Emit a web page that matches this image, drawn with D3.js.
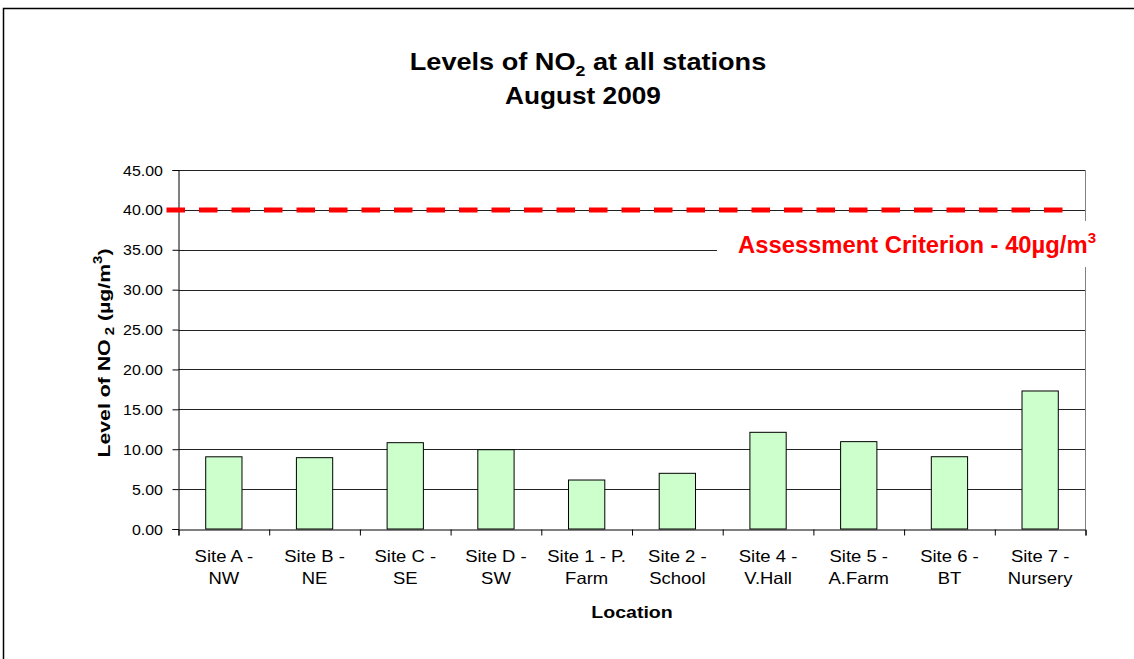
<!DOCTYPE html>
<html><head><meta charset="utf-8">
<script src="https://cdn.jsdelivr.net/npm/d3@7"></script>
<style>body{margin:0;background:#fff}svg{display:block;font-family:Arial,"Liberation Sans",sans-serif}</style>
</head><body><svg id="c" width="1134" height="659"></svg>
<script>
const categories = [["Site A -","NW"],["Site B -","NE"],["Site C -","SE"],["Site D -","SW"],["Site 1 - P.","Farm"],["Site 2 -","School"],["Site 4 -","V.Hall"],["Site 5 -","A.Farm"],["Site 6 -","BT"],["Site 7 -","Nursery"]];
const values = [9.05, 8.94, 10.82, 9.94, 6.14, 6.98, 12.12, 10.95, 9.06, 17.3];
const yTicks = [0,5,10,15,20,25,30,35,40,45];
const criterion = 40;

const svg = d3.select("#c");
const L = 178.5, R = 1085.5, T = 170, B = 529;

svg.append("rect").attr("x",3.5).attr("y",8.5).attr("width",1200).attr("height",700)
  .attr("fill","#fff").attr("stroke","#000").attr("stroke-width",1.5);

const x = d3.scaleBand().domain(d3.range(categories.length)).range([L,R]);
const y = d3.scaleLinear().domain([0,45]).range([B,T]);

// helper: text stretched along its baseline
function stext(parent, tx, ty, sx, rot) {
  return parent.append("g").attr("transform",`translate(${tx},${ty})${rot?` rotate(${rot})`:""} scale(${sx},1)`).append("text");
}

// gridlines
svg.append("g").selectAll("line").data(yTicks.filter(d=>d>0)).join("line")
  .attr("x1",L).attr("x2",R).attr("y1",d=>Math.round(y(d))+0.5).attr("y2",d=>Math.round(y(d))+0.5)
  .attr("stroke","#222").attr("stroke-width",1);
svg.append("line").attr("x1",R).attr("x2",R).attr("y1",T).attr("y2",B).attr("stroke","#808080");

// bars
const bw = x.bandwidth()*0.4;
svg.append("g").selectAll("rect").data(values).join("rect")
  .attr("x",(d,i)=>x(i)+x.bandwidth()/2-bw/2)
  .attr("y",d=>y(d)).attr("width",bw).attr("height",d=>y(0)-y(d))
  .attr("fill","#ccffcc").attr("stroke","#000").attr("stroke-width",1);

// y axis
const ya = svg.append("g").attr("transform",`translate(${L},0)`)
  .call(d3.axisLeft(y).tickValues(yTicks).tickFormat("").tickSize(6));
ya.select(".domain").attr("stroke","#000");
ya.selectAll(".tick line").attr("stroke","#000");
yTicks.forEach(v=>{
  stext(svg, 163, y(v)+5.5, 1.14).attr("text-anchor","end").attr("font-size",14).text(d3.format(".2f")(v));
});

// x axis
const xb = d3.scaleLinear().domain([0,categories.length]).range([L,R]);
const xa = svg.append("g").attr("transform",`translate(0,${B+0.5})`)
  .call(d3.axisBottom(xb).tickValues(d3.range(categories.length+1)).tickSize(6).tickFormat(""));
xa.select(".domain").attr("stroke","#000");
xa.selectAll(".tick line").attr("stroke","#000");
categories.forEach((c,i)=>{
  const cx = x(i)+x.bandwidth()/2;
  stext(svg, cx, 562, 1.12).attr("text-anchor","middle").attr("font-size",16.5).text(c[0]);
  stext(svg, cx, 584, 1.12).attr("text-anchor","middle").attr("font-size",16.5).text(c[1]);
});

// annotation box
svg.append("rect").attr("x",717).attr("y",221).attr("width",400).attr("height",46).attr("fill","#fff");
const at = svg.append("text").attr("x",738).attr("y",252.5).attr("font-size",23.8).attr("font-weight","bold").attr("fill","#ff0000");
at.append("tspan").text("Assessment Criterion - 40µg/m");
at.append("tspan").attr("dy",-10).attr("font-size",15).text("3");

// criterion dashed line
svg.append("line").attr("x1",L-12).attr("x2",R-18).attr("y1",y(criterion)).attr("y2",y(criterion))
  .attr("stroke","#ff0000").attr("stroke-width",5).attr("stroke-dasharray","18.5,14");

// title
const t1 = stext(svg, 588, 70, 1.18).attr("text-anchor","middle").attr("font-size",23).attr("font-weight","bold");
t1.append("tspan").text("Levels of NO");
t1.append("tspan").attr("dy",6).attr("font-size",15).text("2");
t1.append("tspan").attr("dy",-6).text(" at all stations");
stext(svg, 583, 104, 1.14).attr("text-anchor","middle").attr("font-size",23).attr("font-weight","bold").text("August 2009");

// axis titles
stext(svg, (L+R)/2, 618, 1.15).attr("text-anchor","middle").attr("font-size",17).attr("font-weight","bold").text("Location");
const yl = stext(svg, 110, 353, 1.25, -90).attr("text-anchor","middle").attr("font-size",17).attr("font-weight","bold");
yl.append("tspan").text("Level of NO");
yl.append("tspan").attr("dy",4).attr("font-size",12).text(" 2");
yl.append("tspan").attr("dy",-4).text(" (µg/m");
yl.append("tspan").attr("dy",-8).attr("font-size",12).text("3");
yl.append("tspan").attr("dy",8).text(")");
</script></body></html>
